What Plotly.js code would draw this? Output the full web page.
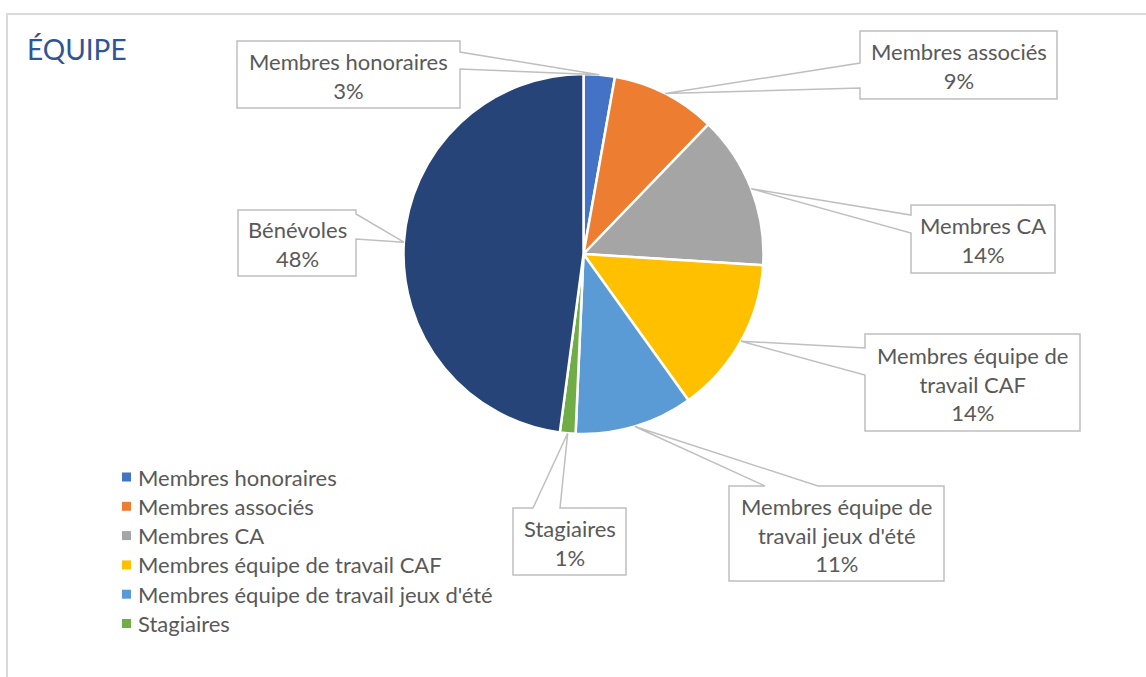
<!DOCTYPE html>
<html>
<head>
<meta charset="utf-8">
<script src="https://cdn.plot.ly/plotly-3.0.1.min.js"></script>
<style>html,body{margin:0;padding:0;background:#fff;}#chart{width:1146px;height:677px;}</style>
</head>
<body>
<div id="chart"></div>
<script>
// ---- data ----
const categories = ['Membres honoraires', 'Membres associés', 'Membres CA', 'Membres équipe de travail CAF', "Membres équipe de travail jeux d'été", 'Stagiaires', 'Bénévoles'];
const values = [2.8, 9.4, 13.8, 14.1, 10.6, 1.4, 47.9];
const calloutLabels = ['Membres honoraires', 'Membres associés', 'Membres CA', 'Membres équipe de<br>travail CAF', "Membres équipe de<br>travail jeux d'été", 'Stagiaires', 'Bénévoles'];
const legendCategories = ['Membres honoraires', 'Membres associés', 'Membres CA', 'Membres équipe de travail CAF', "Membres équipe de travail jeux d'été", 'Stagiaires'];
const colors = ['#4472C4', '#ED7D31', '#A5A5A5', '#FFC000', '#5B9BD5', '#70AD47', '#264478'];
const titleText = 'ÉQUIPE';

// ---- layout constants (pixels) ----
const W = 1146, H = 677;
const CX = 583.5, CY = 254, R = 180;
const FONT = 'Lato, "Open Sans", sans-serif';
const TEXT_COLOR = '#595959';
const boxes = [
  {l: 237, t: 41, r: 460, b: 108, side: 'right', g1: 52, g2: 69},
  {l: 860, t: 31, r: 1057, b: 99, side: 'left', g1: 63, g2: 88},
  {l: 911, t: 205, r: 1055, b: 273, side: 'left', g1: 215, g2: 233},
  {l: 865, t: 334, r: 1080, b: 431, side: 'left', g1: 348, g2: 375},
  {l: 729, t: 486, r: 944, b: 581, side: 'top', g1: 765, g2: 818},
  {l: 513, t: 508, r: 626, b: 575, side: 'top', g1: 533, g2: 560},
  {l: 238, t: 210, r: 356, b: 276, side: 'right', g1: 214, g2: 239}
];

const px = x => x / W;
const py = y => 1 - y / H;
const P = (x, y) => px(x).toFixed(5) + ',' + py(y).toFixed(5);

const total = values.reduce((a, b) => a + b, 0);
let cum = 0;
const tips = values.map(v => {
  const mid = (cum + v / 2) / total;
  cum += v;
  const ang = mid * 2 * Math.PI;
  return [CX + R * Math.sin(ang), CY - R * Math.cos(ang)];
});

const shapes = [];
const annotations = [];

// chart frame
shapes.push({type: 'rect', xref: 'paper', yref: 'paper', x0: px(7), x1: px(1160), y0: py(14), y1: py(700),
  line: {color: '#d9d9d9', width: 2}, fillcolor: 'rgba(0,0,0,0)', layer: 'below'});

// callouts
boxes.forEach((b, i) => {
  const [tx, ty] = tips[i];
  let d;
  if (b.side === 'top') {
    d = 'M' + P(b.l, b.t) + 'L' + P(b.g1, b.t) + 'L' + P(tx, ty) + 'L' + P(b.g2, b.t) + 'L' + P(b.r, b.t) +
        'L' + P(b.r, b.b) + 'L' + P(b.l, b.b) + 'Z';
  } else if (b.side === 'right') {
    d = 'M' + P(b.l, b.t) + 'L' + P(b.r, b.t) + 'L' + P(b.r, b.g1) + 'L' + P(tx, ty) + 'L' + P(b.r, b.g2) +
        'L' + P(b.r, b.b) + 'L' + P(b.l, b.b) + 'Z';
  } else {
    d = 'M' + P(b.l, b.t) + 'L' + P(b.r, b.t) + 'L' + P(b.r, b.b) + 'L' + P(b.l, b.b) + 'L' + P(b.l, b.g2) +
        'L' + P(tx, ty) + 'L' + P(b.l, b.g1) + 'Z';
  }
  shapes.push({type: 'path', xref: 'paper', yref: 'paper', path: d, fillcolor: '#ffffff',
    line: {color: '#bfbfbf', width: 1.5}, layer: 'above'});
  const pct = Math.round(values[i] / total * 100) + '%';
  annotations.push({xref: 'paper', yref: 'paper', x: px((b.l + b.r) / 2), y: py((b.t + b.b) / 2 + 1),
    xanchor: 'center', yanchor: 'middle', showarrow: false, align: 'center',
    text: calloutLabels[i] + '<br>' + pct, font: {family: FONT, size: 22, color: TEXT_COLOR}});
});

// legend (custom, as in the reference)
legendCategories.forEach((name, i) => {
  const yc = 477 + i * 29.3;
  const ci = categories.indexOf(name);
  shapes.push({type: 'rect', xref: 'paper', yref: 'paper', x0: px(122), x1: px(131), y0: py(yc - 4.5), y1: py(yc + 4.5),
    fillcolor: colors[ci], line: {width: 0}});
  annotations.push({xref: 'paper', yref: 'paper', x: px(136), y: py(yc), xanchor: 'left', yanchor: 'middle',
    showarrow: false, text: name, font: {family: FONT, size: 22, color: TEXT_COLOR}});
});

const trace = {
  type: 'pie',
  labels: categories,
  values: values,
  sort: false,
  direction: 'clockwise',
  rotation: 0,
  textinfo: 'none',
  hoverinfo: 'label+percent',
  showlegend: false,
  marker: {colors: colors, line: {color: '#ffffff', width: 2.5}},
  domain: {x: [px(CX - R), px(CX + R)], y: [py(CY + R), py(CY - R)]}
};

const layout = {
  width: W, height: H,
  margin: {l: 0, r: 0, t: 0, b: 0},
  paper_bgcolor: '#ffffff',
  showlegend: false,
  title: {text: titleText, x: px(27), xanchor: 'left', xref: 'paper', y: py(50), yanchor: 'middle', yref: 'paper',
    font: {family: FONT, size: 28, color: '#2F5597'}},
  shapes: shapes,
  annotations: annotations
};

Plotly.newPlot('chart', [trace], layout, {displayModeBar: false, staticPlot: false});
</script>
</body>
</html>
